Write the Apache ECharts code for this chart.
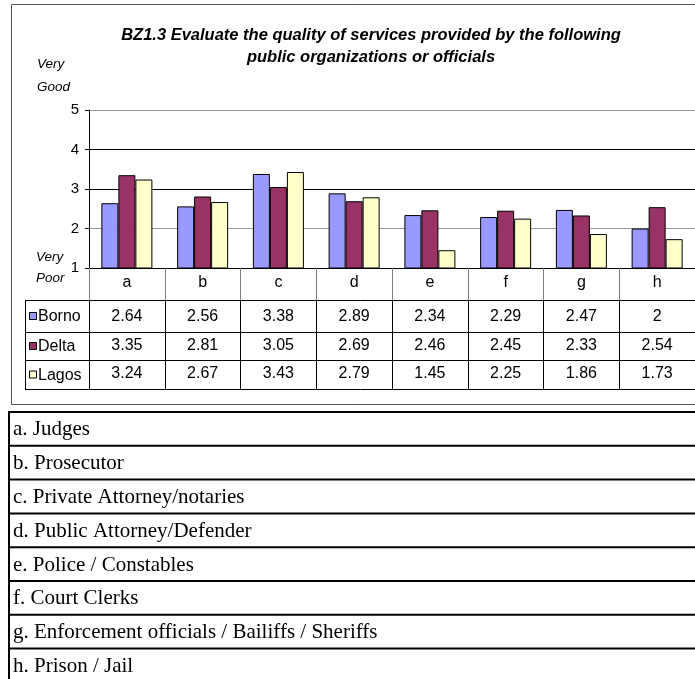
<!DOCTYPE html>
<html>
<head>
<meta charset="utf-8">
<script src="https://cdn.jsdelivr.net/npm/echarts@6/dist/echarts.min.js"></script>
<style>
  html, body { margin: 0; padding: 0; background: #fff; }
  #chart { width: 695px; height: 679px; }
</style>
</head>
<body>
<div id="chart"></div>
<script>
var categories = ['a', 'b', 'c', 'd', 'e', 'f', 'g', 'h'];
var seriesNames = ['Borno', 'Delta', 'Lagos'];
var borno = [2.64, 2.56, 3.38, 2.89, 2.34, 2.29, 2.47, 2];
var delta = [3.35, 2.81, 3.05, 2.69, 2.46, 2.45, 2.33, 2.54];
var lagos = [3.24, 2.67, 3.43, 2.79, 1.45, 2.25, 1.86, 1.73];
var yTicks = [1, 2, 3, 4, 5];
var descriptions = [
    'a. Judges',
    'b. Prosecutor',
    'c. Private Attorney/notaries',
    'd. Public Attorney/Defender',
    'e. Police / Constables',
    'f. Court Clerks',
    'g. Enforcement officials / Bailiffs / Sheriffs',
    'h. Prison / Jail'
];

var myColor = ['#9999ff', '#993366', '#ffffcc'];
var values = [borno, delta, lagos];
var font = 'Liberation Sans, Arial, sans-serif';

var chart = echarts.init(document.getElementById('chart'));

// layout of the plot and the data table under it
var gLeft = 89, gTop = 110, gBottom = 268, gRight = 695;
var rowLines = [300, 332, 360, 389];
var tableLeft = 25;

var series = [];
for (var i = 0; i < seriesNames.length; i++) {
    series.push({
        name: seriesNames[i],
        type: 'bar',
        xAxisIndex: 0,
        data: values[i],
        barWidth: 17,
        barGap: '0%',
        clip: true,
        itemStyle: {
            color: myColor[i],
            borderColor: '#000',
            borderWidth: 1
        },
        emphasis: { disabled: true }
    });
}

var xAxes = [{
    type: 'category',
    gridIndex: 0,
    position: 'bottom',
    data: categories,
    axisLine: { show: true, lineStyle: { color: '#000', width: 1 } },
    axisTick: { show: true, inside: false, length: 32, lineStyle: { color: '#808080' } },
    axisLabel: { color: '#000', fontSize: 16, fontFamily: font, margin: 15, verticalAlign: 'middle' },
    splitLine: { show: false }
}];
var offsets = [32, 64, 92];
var margins = [17, 14, 14];
for (var k = 0; k < seriesNames.length; k++) {
    xAxes.push({
        type: 'category',
        gridIndex: 0,
        position: 'bottom',
        offset: offsets[k],
        data: values[k].map(function (v) { return String(v); }),
        axisLine: { show: false },
        axisTick: { show: k == 0, inside: false, length: 89, lineStyle: { color: '#000' } },
        axisLabel: { color: '#000', fontSize: 16, fontFamily: font, margin: margins[k], verticalAlign: 'middle' },
        splitLine: { show: false }
    });
}

var graphics = [];
// outer frame of the chart
graphics.push({
    type: 'rect',
    shape: { x: 11.5, y: 4.5, width: 700, height: 400 },
    style: { fill: null, stroke: '#555', lineWidth: 1 },
    silent: true
});
// table horizontal lines
for (var r = 0; r < rowLines.length; r++) {
    graphics.push({
        type: 'line',
        shape: { x1: tableLeft, y1: rowLines[r] + 0.5, x2: 700, y2: rowLines[r] + 0.5 },
        style: { stroke: '#000', lineWidth: 1 },
        silent: true
    });
}
graphics.push({
    type: 'line',
    shape: { x1: tableLeft + 0.5, y1: rowLines[0], x2: tableLeft + 0.5, y2: rowLines[3] + 1 },
    style: { stroke: '#000', lineWidth: 1 },
    silent: true
});
graphics.push({
    type: 'line',
    shape: { x1: gLeft + 0.5, y1: gBottom, x2: gLeft + 0.5, y2: rowLines[3] + 1 },
    style: { stroke: '#000', lineWidth: 1 },
    silent: true
});
// legend keys in the table
for (var s = 0; s < seriesNames.length; s++) {
    var mid = (rowLines[s] + rowLines[s + 1]) / 2;
    graphics.push({
        type: 'rect',
        shape: { x: 29.5, y: mid - 3.5, width: 7, height: 7 },
        style: { fill: myColor[s], stroke: '#000', lineWidth: 1 },
        silent: true
    });
    graphics.push({
        type: 'text',
        x: 38, y: mid + 1,
        style: { text: seriesNames[s], fill: '#000', font: '16px ' + font, textVerticalAlign: 'middle' },
        silent: true
    });
}
// axis end captions
graphics.push({
    type: 'text', x: 37, y: 53,
    style: { text: 'Very\nGood', fill: '#000', font: 'italic 13.5px ' + font, lineHeight: 23 },
    silent: true
});
graphics.push({
    type: 'text', x: 36, y: 247,
    style: { text: 'Very\nPoor', fill: '#000', font: 'italic 13.5px ' + font, lineHeight: 21 },
    silent: true
});
// description table under the chart
var descTop = 412, descRow = 33.8;
for (var d = 0; d <= descriptions.length; d++) {
    graphics.push({
        type: 'line',
        shape: { x1: 8, y1: descTop + d * descRow, x2: 700, y2: descTop + d * descRow },
        style: { stroke: '#000', lineWidth: 2 },
        silent: true
    });
}
graphics.push({
    type: 'line',
    shape: { x1: 9, y1: descTop, x2: 9, y2: 700 },
    style: { stroke: '#000', lineWidth: 2 },
    silent: true
});
for (var t = 0; t < descriptions.length; t++) {
    graphics.push({
        type: 'text',
        x: 13, y: descTop + t * descRow + descRow / 2 + 1,
        style: { text: descriptions[t], fill: '#000', font: '21px Liberation Serif, Times New Roman, serif', textVerticalAlign: 'middle' },
        silent: true
    });
}

option = {
    animation: false,
    backgroundColor: '#fff',
    title: {
        text: 'BZ1.3 Evaluate the quality of services provided by the following\npublic organizations or officials',
        left: 366,
        top: 19,
        textAlign: 'center',
        textStyle: {
            color: '#000',
            fontSize: 16.5,
            fontStyle: 'italic',
            fontWeight: 'bold',
            fontFamily: font,
            lineHeight: 22
        }
    },
    grid: {
        left: gLeft,
        top: gTop,
        width: gRight - gLeft,
        height: gBottom - gTop,
        containLabel: false
    },
    xAxis: xAxes,
    yAxis: {
        type: 'value',
        min: yTicks[0],
        max: yTicks[yTicks.length - 1],
        interval: 1,
        axisLine: { show: true, lineStyle: { color: '#000' } },
        axisTick: { show: true, inside: false, length: 4, lineStyle: { color: '#000' } },
        axisLabel: { color: '#000', fontSize: 15, fontFamily: font, margin: 10 },
        splitLine: { show: true, lineStyle: { color: ['#000', '#999', '#000', '#000', '#999'], width: 1 } }
    },
    graphic: graphics,
    series: series
};
chart.setOption(option);
</script>
</body>
</html>
